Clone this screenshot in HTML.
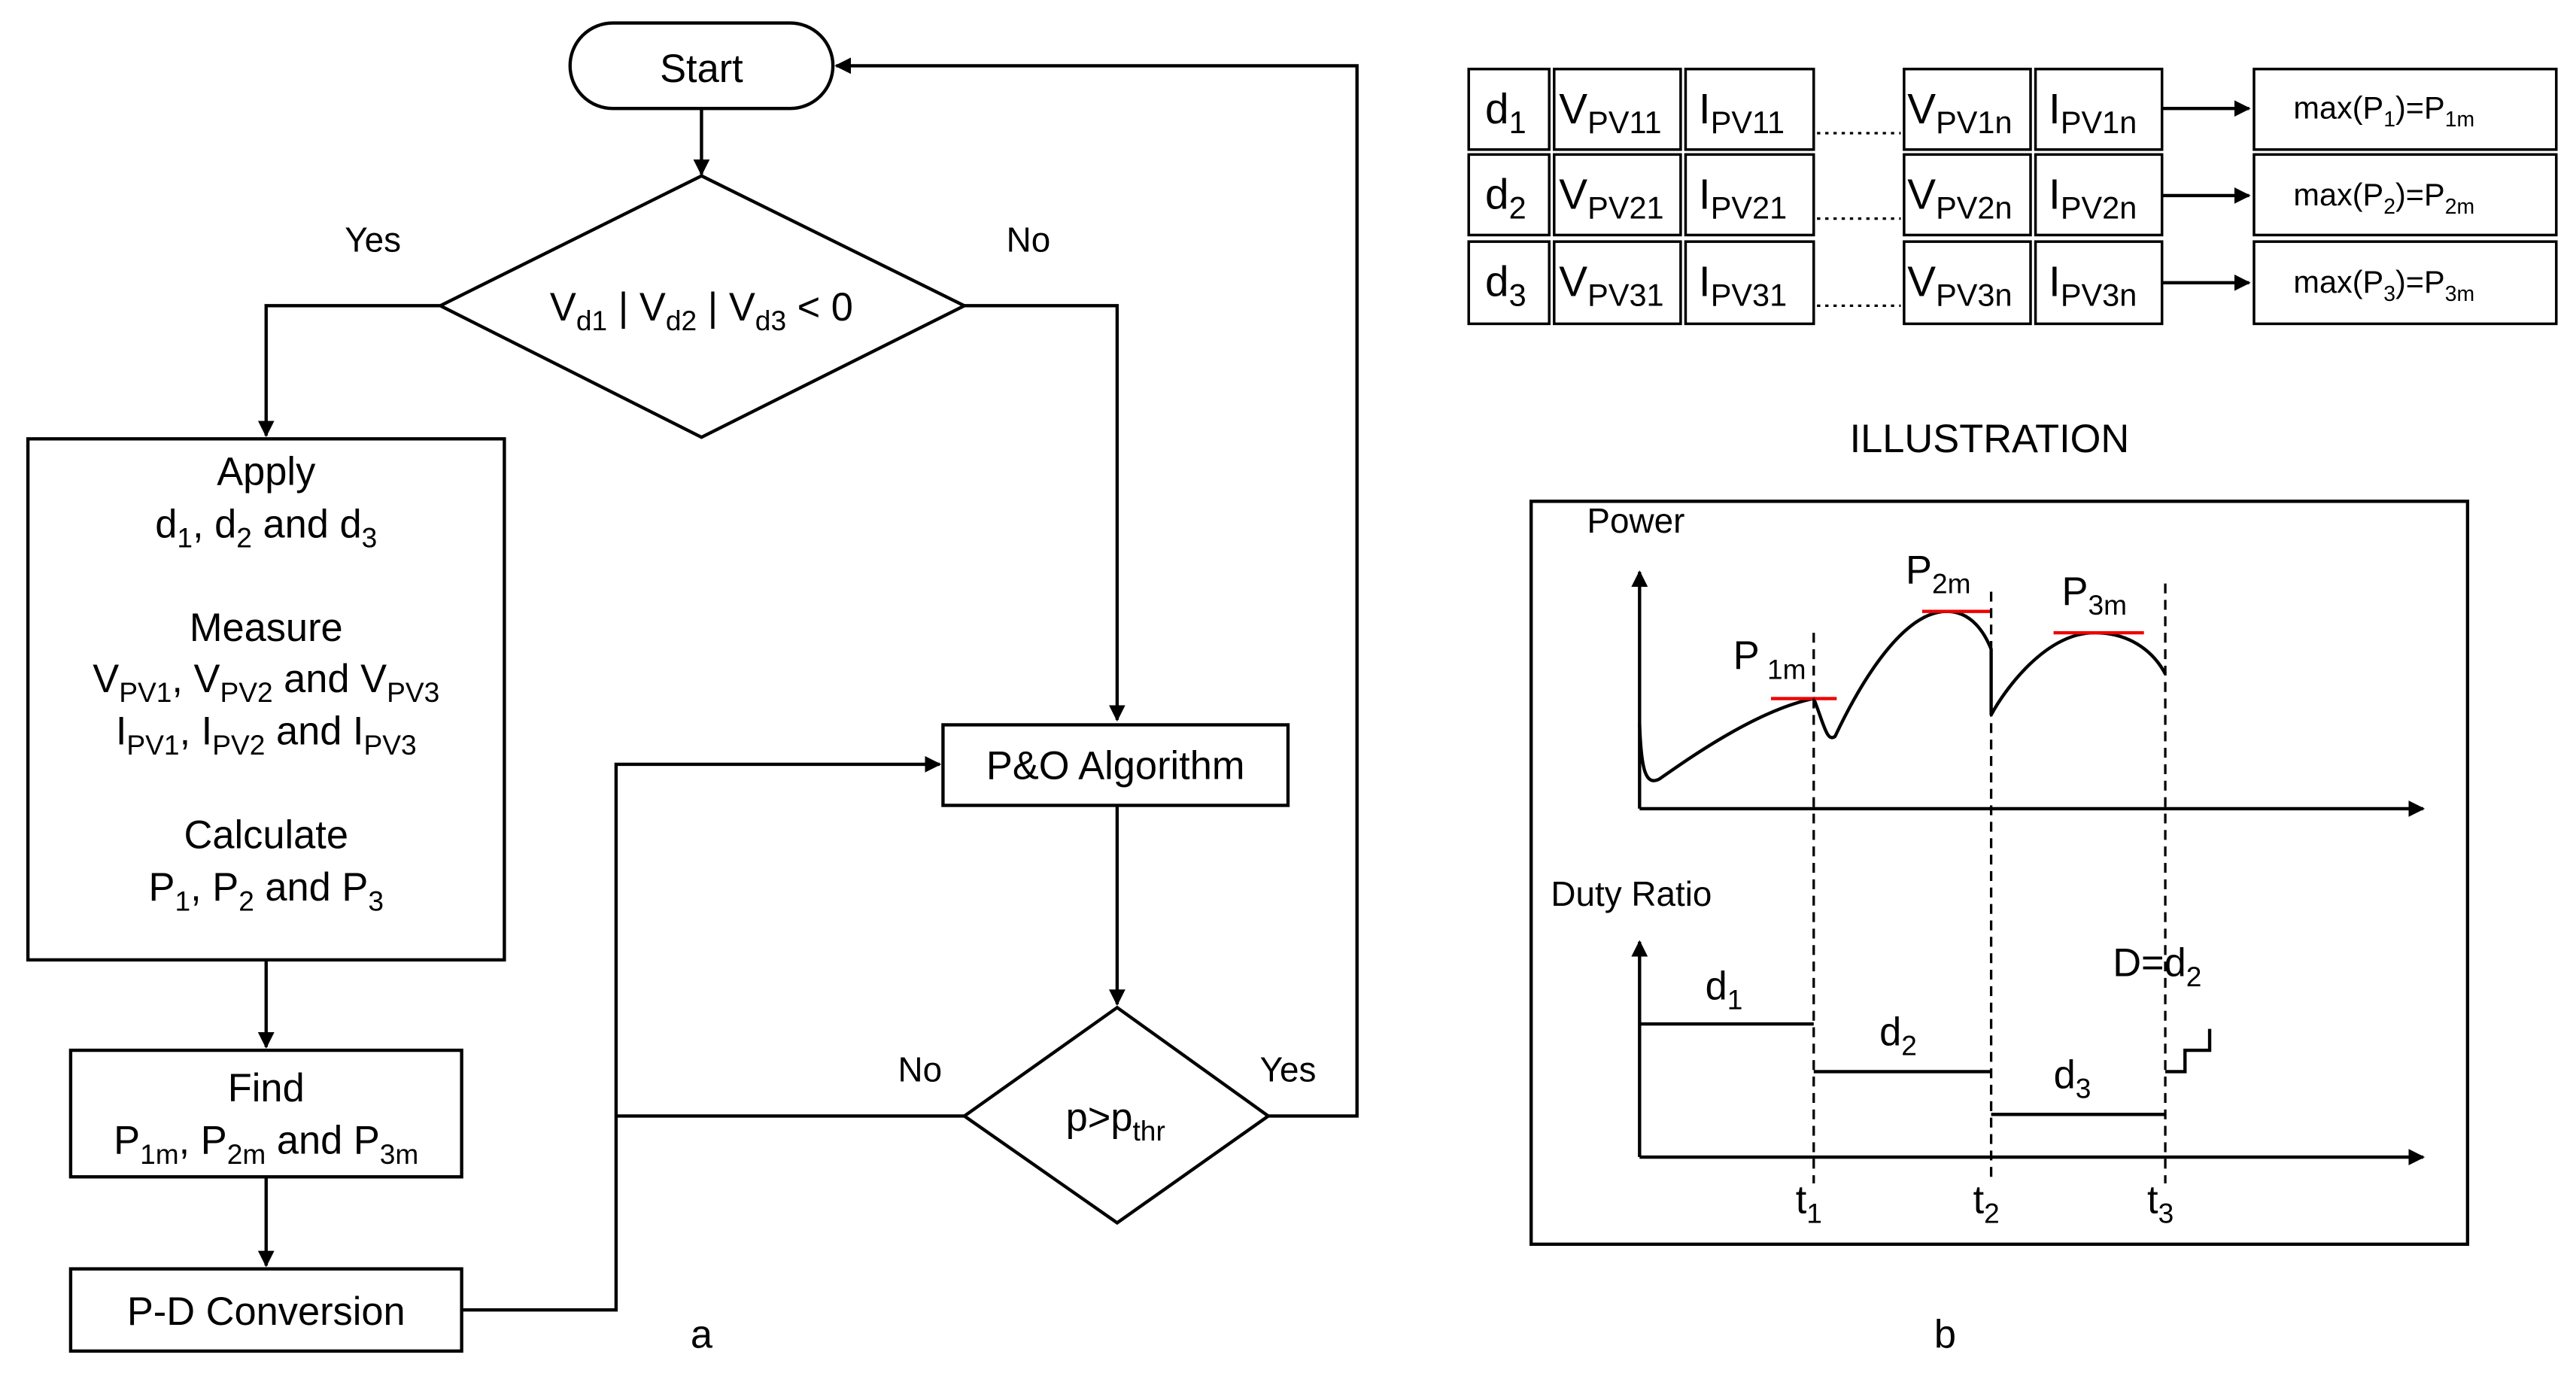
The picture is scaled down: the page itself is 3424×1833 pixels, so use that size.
<!DOCTYPE html>
<html><head><meta charset="utf-8"><style>html,body{margin:0;padding:0;background:#fff}svg{display:block}</style></head>
<body>
<svg width="3424" height="1833" viewBox="0 0 1568 839" preserveAspectRatio="none" xmlns="http://www.w3.org/2000/svg" font-family="Liberation Sans, sans-serif" fill="none" stroke="#000" stroke-width="2">
<defs><marker id="a" markerWidth="10" markerHeight="10" refX="9" refY="5" orient="auto" markerUnits="userSpaceOnUse"><path d="M0,0 L10,5 L0,10 z" fill="#000" stroke="none"/></marker></defs>
<rect x="347" y="14" width="160" height="52" rx="26"/>
<line x1="427" y1="66" x2="427" y2="106" marker-end="url(#a)"/>
<path d="M427,107 L587,186 L427,266 L268,186 Z"/>
<path d="M268,186 H162 V265" marker-end="url(#a)"/>
<path d="M587,186 H680 V438" marker-end="url(#a)"/>
<rect x="17" y="267" width="290" height="317"/>
<line x1="162" y1="584" x2="162" y2="637" marker-end="url(#a)"/>
<rect x="43" y="639" width="238" height="77"/>
<line x1="162" y1="716" x2="162" y2="770" marker-end="url(#a)"/>
<rect x="43" y="772" width="238" height="50"/>
<path d="M281,797 H375 V465 H572" marker-end="url(#a)"/>
<rect x="574" y="441" width="210" height="49"/>
<line x1="680" y1="490" x2="680" y2="611" marker-end="url(#a)"/>
<path d="M680,613 L772,679 L680,744 L587,679 Z"/>
<line x1="587" y1="679" x2="375" y2="679"/>
<path d="M772,679 H826 V40 H509" marker-end="url(#a)"/>
<g fill="#000" stroke="none" font-size="24" text-anchor="middle">
<text x="427" y="50">Start</text>
<text x="427" y="195">V<tspan font-size="17" dy="6">d1</tspan><tspan dy="-6"> | V</tspan><tspan font-size="17" dy="6">d2</tspan><tspan dy="-6"> | V</tspan><tspan font-size="17" dy="6">d3</tspan><tspan dy="-6"> &lt; 0</tspan></text>
<text x="227" y="153" font-size="21">Yes</text>
<text x="626" y="153" font-size="21">No</text>
<text x="162" y="295">Apply</text>
<text x="162" y="327">d<tspan font-size="17" dy="6">1</tspan><tspan dy="-6">, d</tspan><tspan font-size="17" dy="6">2</tspan><tspan dy="-6"> and d</tspan><tspan font-size="17" dy="6">3</tspan></text>
<text x="162" y="390">Measure</text>
<text x="162" y="421">V<tspan font-size="17" dy="6">PV1</tspan><tspan dy="-6">, V</tspan><tspan font-size="17" dy="6">PV2</tspan><tspan dy="-6"> and V</tspan><tspan font-size="17" dy="6">PV3</tspan></text>
<text x="162" y="453">I<tspan font-size="17" dy="6">PV1</tspan><tspan dy="-6">, I</tspan><tspan font-size="17" dy="6">PV2</tspan><tspan dy="-6"> and I</tspan><tspan font-size="17" dy="6">PV3</tspan></text>
<text x="162" y="516">Calculate</text>
<text x="162" y="548">P<tspan font-size="17" dy="6">1</tspan><tspan dy="-6">, P</tspan><tspan font-size="17" dy="6">2</tspan><tspan dy="-6"> and P</tspan><tspan font-size="17" dy="6">3</tspan></text>
<text x="162" y="670">Find</text>
<text x="162" y="702">P<tspan font-size="17" dy="6">1m</tspan><tspan dy="-6">, P</tspan><tspan font-size="17" dy="6">2m</tspan><tspan dy="-6"> and P</tspan><tspan font-size="17" dy="6">3m</tspan></text>
<text x="162" y="806">P-D Conversion</text>
<text x="679" y="474">P&amp;O Algorithm</text>
<text x="560" y="658" font-size="21">No</text>
<text x="784" y="658" font-size="21">Yes</text>
<text x="679" y="688">p&gt;p<tspan font-size="17" dy="6">thr</tspan></text>
<text x="427" y="820">a</text>
<text x="1184" y="820">b</text>
<text x="1211" y="275">ILLUSTRATION</text>
</g>
<g stroke-width="1.6">
<rect x="894" y="42" width="49" height="49"/><rect x="946" y="42" width="77" height="49"/><rect x="1026" y="42" width="78" height="49"/><rect x="1159" y="42" width="77" height="49"/><rect x="1239" y="42" width="77" height="49"/><rect x="1372" y="42" width="184" height="49"/>
<rect x="894" y="94" width="49" height="49"/><rect x="946" y="94" width="77" height="49"/><rect x="1026" y="94" width="78" height="49"/><rect x="1159" y="94" width="77" height="49"/><rect x="1239" y="94" width="77" height="49"/><rect x="1372" y="94" width="184" height="49"/>
<rect x="894" y="147" width="49" height="50"/><rect x="946" y="147" width="77" height="50"/><rect x="1026" y="147" width="78" height="50"/><rect x="1159" y="147" width="77" height="50"/><rect x="1239" y="147" width="77" height="50"/><rect x="1372" y="147" width="184" height="50"/>
</g>
<g stroke-dasharray="2,3" stroke-width="1.5"><line x1="1106" y1="81" x2="1157" y2="81"/><line x1="1106" y1="133" x2="1157" y2="133"/><line x1="1106" y1="186" x2="1157" y2="186"/></g>
<line x1="1316" y1="66" x2="1369" y2="66" marker-end="url(#a)"/>
<line x1="1316" y1="119" x2="1369" y2="119" marker-end="url(#a)"/>
<line x1="1316" y1="172" x2="1369" y2="172" marker-end="url(#a)"/>
<g fill="#000" stroke="none" font-size="26">
<text x="904" y="75">d<tspan font-size="19" dy="6">1</tspan></text>
<text x="904" y="127">d<tspan font-size="19" dy="6">2</tspan></text>
<text x="904" y="180">d<tspan font-size="19" dy="6">3</tspan></text>
<text x="949" y="75">V<tspan font-size="19" dy="6">PV11</tspan></text>
<text x="949" y="127">V<tspan font-size="19" dy="6">PV21</tspan></text>
<text x="949" y="180">V<tspan font-size="19" dy="6">PV31</tspan></text>
<text x="1034" y="75">I<tspan font-size="19" dy="6">PV11</tspan></text>
<text x="1034" y="127">I<tspan font-size="19" dy="6">PV21</tspan></text>
<text x="1034" y="180">I<tspan font-size="19" dy="6">PV31</tspan></text>
<text x="1161" y="75">V<tspan font-size="19" dy="6">PV1n</tspan></text>
<text x="1161" y="127">V<tspan font-size="19" dy="6">PV2n</tspan></text>
<text x="1161" y="180">V<tspan font-size="19" dy="6">PV3n</tspan></text>
<text x="1247" y="75">I<tspan font-size="19" dy="6">PV1n</tspan></text>
<text x="1247" y="127">I<tspan font-size="19" dy="6">PV2n</tspan></text>
<text x="1247" y="180">I<tspan font-size="19" dy="6">PV3n</tspan></text>
<g font-size="19"><text x="1396" y="72">max(P<tspan font-size="13" dy="5">1</tspan><tspan dy="-5">)=P</tspan><tspan font-size="13" dy="5">1m</tspan></text>
<text x="1396" y="125">max(P<tspan font-size="13" dy="5">2</tspan><tspan dy="-5">)=P</tspan><tspan font-size="13" dy="5">2m</tspan></text>
<text x="1396" y="178">max(P<tspan font-size="13" dy="5">3</tspan><tspan dy="-5">)=P</tspan><tspan font-size="13" dy="5">3m</tspan></text></g>
</g>
<rect x="932" y="305" width="570" height="452"/>
<line x1="998" y1="492" x2="998" y2="348" marker-end="url(#a)"/>
<line x1="998" y1="492" x2="1475" y2="492" marker-end="url(#a)"/>
<line x1="998" y1="704" x2="998" y2="573" marker-end="url(#a)"/>
<line x1="998" y1="704" x2="1475" y2="704" marker-end="url(#a)"/>
<path d="M998,440 C999,470 1002,478 1010,474 C1030,460 1070,432 1104,425 C1110,440 1112,452 1117,448 C1135,410 1160,372 1185,372 C1200,372 1208,385 1212,395 L1212,435 C1220,420 1245,385 1275,385 C1295,385 1310,395 1318,410"/>
<g stroke="#e00"><line x1="1078" y1="425" x2="1118" y2="425"/><line x1="1170" y1="372" x2="1212" y2="372"/><line x1="1250" y1="385" x2="1305" y2="385"/></g>
<g stroke-dasharray="6,4" stroke-width="1.5"><line x1="1104" y1="385" x2="1104" y2="720"/><line x1="1212" y1="360" x2="1212" y2="720"/><line x1="1318" y1="355" x2="1318" y2="720"/></g>
<path d="M998,623 H1104 M1104,652 H1212 M1212,678 H1318 M1318,652 H1330 V639 H1345 V626"/>
<g fill="#000" stroke="none" font-size="21">
<text x="966" y="324">Power</text>
<text x="944" y="551">Duty Ratio</text>
<text x="1055" y="407" font-size="24">P<tspan font-size="17" dy="6"> 1m</tspan></text>
<text x="1160" y="355" font-size="24">P<tspan font-size="17" dy="6">2m</tspan></text>
<text x="1255" y="368" font-size="24">P<tspan font-size="17" dy="6">3m</tspan></text>
<text x="1038" y="608" font-size="24">d<tspan font-size="17" dy="6">1</tspan></text>
<text x="1144" y="636" font-size="24">d<tspan font-size="17" dy="6">2</tspan></text>
<text x="1250" y="662" font-size="24">d<tspan font-size="17" dy="6">3</tspan></text>
<text x="1286" y="594" font-size="24">D=d<tspan font-size="17" dy="6">2</tspan></text>
<text x="1093" y="738" font-size="24">t<tspan font-size="17" dy="6">1</tspan></text>
<text x="1201" y="738" font-size="24">t<tspan font-size="17" dy="6">2</tspan></text>
<text x="1307" y="738" font-size="24">t<tspan font-size="17" dy="6">3</tspan></text>
</g>
</svg>
</body></html>
